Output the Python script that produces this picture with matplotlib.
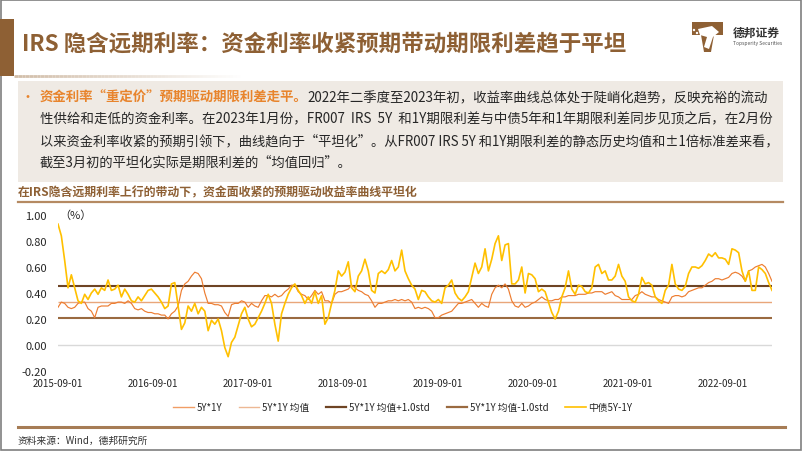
import matplotlib
matplotlib.use('Agg')
import matplotlib.pyplot as plt
import pandas as pd
import numpy as np
from matplotlib.patches import Rectangle, Polygon, Circle
from matplotlib.lines import Line2D
from matplotlib.collections import LineCollection

plt.rcParams['font.family'] = ['Noto Sans CJK SC', 'DejaVu Sans']

# ---------------- data ----------------
start_date = '2015-09-01'
end_date = '2023-03-10'

spread_5y1y = [
    0.29, 0.33, 0.32, 0.29, 0.28, 0.29, 0.32, 0.33, 0.33, 0.28,
    0.26, 0.21, 0.29, 0.30, 0.30, 0.30, 0.32, 0.32, 0.33, 0.33,
    0.32, 0.34, 0.32, 0.28, 0.27, 0.28, 0.26, 0.25, 0.25, 0.24,
    0.24, 0.23, 0.23, 0.20, 0.24, 0.26, 0.30, 0.42, 0.47, 0.49,
    0.53, 0.56, 0.55, 0.51, 0.40, 0.32, 0.32, 0.31, 0.31, 0.30,
    0.25, 0.22, 0.31, 0.32, 0.32,
    0.34, 0.33, 0.29, 0.32, 0.30, 0.29, 0.34, 0.38, 0.38, 0.37,
    0.39, 0.37, 0.38, 0.41, 0.43, 0.46, 0.46, 0.41, 0.39, 0.38,
    0.35, 0.38, 0.42, 0.39, 0.41, 0.34, 0.34, 0.32, 0.39, 0.41,
    0.41, 0.42, 0.43, 0.46, 0.44, 0.42, 0.41, 0.39, 0.38, 0.34,
    0.29, 0.32, 0.32, 0.33, 0.34, 0.34, 0.35, 0.34, 0.35, 0.34,
    0.35, 0.33, 0.28, 0.29,
    0.28, 0.29, 0.28, 0.26, 0.21, 0.21, 0.23, 0.24, 0.25, 0.26,
    0.29, 0.32, 0.32, 0.33, 0.34, 0.35, 0.32, 0.29, 0.32, 0.30,
    0.29, 0.39, 0.44, 0.46, 0.44, 0.47, 0.43, 0.34, 0.30, 0.29,
    0.32, 0.29, 0.30, 0.32, 0.33, 0.35, 0.37, 0.35, 0.34, 0.34,
    0.35, 0.35, 0.37, 0.37, 0.38, 0.38, 0.38, 0.39, 0.39, 0.39,
    0.40, 0.40, 0.41, 0.41,
    0.41, 0.39, 0.40, 0.41, 0.38, 0.37, 0.35, 0.35, 0.35, 0.35,
    0.38, 0.39, 0.41, 0.39, 0.38, 0.37, 0.37, 0.35, 0.34, 0.33,
    0.32, 0.37, 0.38, 0.38, 0.37, 0.38, 0.41, 0.42, 0.43, 0.44,
    0.44, 0.46, 0.48, 0.49, 0.51, 0.51, 0.50, 0.51, 0.52, 0.55,
    0.56, 0.55, 0.53, 0.49, 0.57, 0.58, 0.60, 0.61, 0.62, 0.60,
    0.55, 0.49,
]

cgb_5y_1y = [
    0.93, 0.84, 0.65, 0.44, 0.54, 0.44, 0.34, 0.32, 0.39, 0.35,
    0.40, 0.43, 0.39, 0.44, 0.42, 0.50, 0.42, 0.43, 0.46, 0.37,
    0.43, 0.39, 0.34, 0.33, 0.37, 0.34, 0.38, 0.42, 0.43, 0.40,
    0.37, 0.33, 0.28, 0.30, 0.47, 0.48, 0.30, 0.12, 0.17, 0.30,
    0.26, 0.32, 0.24, 0.29, 0.26, 0.11, 0.19, 0.16, 0.20, 0.11,
    -0.02, -0.09, 0.02, 0.06, 0.15,
    0.24, 0.29, 0.20, 0.14, 0.16, 0.21, 0.26, 0.32, 0.39, 0.32,
    0.16, 0.03, 0.24, 0.32, 0.39, 0.44, 0.47, 0.42, 0.38, 0.32,
    0.37, 0.32, 0.41, 0.32, 0.38, 0.16, 0.21, 0.32, 0.42, 0.57,
    0.53, 0.56, 0.64, 0.44, 0.41, 0.53, 0.57, 0.66, 0.57, 0.42,
    0.40, 0.55, 0.57, 0.55, 0.58, 0.65, 0.57, 0.60, 0.73, 0.57,
    0.51, 0.46, 0.43, 0.35,
    0.42, 0.41, 0.37, 0.34, 0.33, 0.35, 0.32, 0.44, 0.46, 0.50,
    0.40, 0.36, 0.34, 0.37, 0.41, 0.52, 0.63, 0.55, 0.60, 0.74,
    0.57, 0.66, 0.78, 0.84, 0.65, 0.77, 0.78, 0.47, 0.47, 0.50,
    0.60, 0.40, 0.55, 0.54, 0.51, 0.41, 0.43, 0.41, 0.33, 0.25,
    0.20, 0.26, 0.37, 0.44, 0.57, 0.43, 0.39, 0.46, 0.45, 0.41,
    0.40, 0.44, 0.60, 0.62,
    0.55, 0.57, 0.50, 0.50, 0.53, 0.62, 0.53, 0.49, 0.37, 0.34,
    0.33, 0.39, 0.52, 0.47, 0.48, 0.46, 0.37, 0.34, 0.32, 0.42,
    0.46, 0.62, 0.47, 0.43, 0.42, 0.45, 0.55, 0.60, 0.60, 0.59,
    0.61, 0.65, 0.70, 0.68, 0.71, 0.67, 0.67, 0.66, 0.62, 0.74,
    0.73, 0.71, 0.57, 0.49, 0.57, 0.42, 0.42, 0.60, 0.58, 0.55,
    0.48, 0.42,
]

mean_5y1y = 0.33
std_5y1y = 0.125

y_ticks = [-0.20, 0.00, 0.20, 0.40, 0.60, 0.80, 1.00]
x_tick_dates = ['2015-09-01', '2016-09-01', '2017-09-01', '2018-09-01',
                '2019-09-01', '2020-09-01', '2021-09-01', '2022-09-01']
legend_labels = ['5Y*1Y', '5Y*1Y 均值', '5Y*1Y 均值+1.0std',
                 '5Y*1Y 均值-1.0std', '中债5Y-1Y']

title = 'IRS 隐含远期利率：资金利率收紧预期带动期限利差趋于平坦'
chart_title = '在IRS隐含远期利率上行的带动下，资金面收紧的预期驱动收益率曲线平坦化'
lead = '资金利率“重定价”预期驱动期限利差走平。'
body_lines = [
    '2022年二季度至2023年初，收益率曲线总体处于陡峭化趋势，反映充裕的流动',
    '性供给和走低的资金利率。在2023年1月份，FR007  IRS  5Y  和1Y期限利差与中债5年和1年期限利差同步见顶之后，在2月份',
    '以来资金利率收紧的预期引领下，曲线趋向于“平坦化”。从FR007 IRS 5Y 和1Y期限利差的静态历史均值和±1倍标准差来看，',
    '截至3月初的平坦化实际是期限利差的“均值回归”。',
]
source = '资料来源：Wind，德邦研究所'

# ---------------- colours ----------------
BROWN = '#8E6034'
ORANGE_TXT = '#E8842C'
C_SPREAD = '#ED7D31'
C_MEAN = '#E9A67A'
C_UP = '#6E4424'
C_DN = '#9A6A40'
C_CGB = '#FFC000'

W, H = 802, 452
fig = plt.figure(figsize=(W / 100, H / 100), dpi=100)

bg = fig.add_axes([0, 0, 1, 1], zorder=0)
bg.set_xlim(0, W)
bg.set_ylim(H, 0)
bg.axis('off')

# slide border
bg.add_patch(Rectangle((0.5, 0.5), W - 1.5, H - 1.5, fill=False,
                       edgecolor='#7F7F7F', lw=1.2))
# left header bar
bg.add_patch(Rectangle((0, 20), 14, 57, color=BROWN, lw=0))
# gradient line under header
n = 60
xs = np.linspace(14, 240, n + 1)
segs = [[(xs[i], 77), (xs[i + 1], 77)] for i in range(n)]
cols = [(0.82, 0.74, 0.66, 1 - i / n) for i in range(n)]
bg.add_collection(LineCollection(segs, colors=cols, linewidths=2))

bg.text(22, 44, title, fontsize=16.2, fontweight='bold', color=BROWN,
        va='center', ha='left')

# logo
bg.add_patch(Rectangle((692, 23), 31, 30, color=BROWN, lw=0))
bg.add_patch(Polygon([(692, 36), (701, 36), (704, 53), (692, 53)],
                     closed=True, color='white', lw=0))
bg.add_patch(Polygon([(714, 36), (723, 36), (723, 53), (711, 53)],
                     closed=True, color='white', lw=0))
bg.add_patch(Polygon([(698, 30), (712, 27), (719, 33), (713, 38), (709, 50),
                      (704, 48), (707, 38), (700, 36)], closed=True,
                     color='white', lw=0))
for cx, cy in [(694, 31), (697, 34)]:
    bg.add_patch(Circle((cx, cy), 1.2, color='white', lw=0))
bg.text(733, 33, '德邦证券', fontsize=8.5, fontweight='bold',
        color='#333333', va='center', ha='left')
bg.text(733, 44, 'Topsperity Securities', fontsize=3.6, color='#555555',
        va='center', ha='left')

# text box
bg.add_patch(Rectangle((18, 82), 765, 101, color='#EFEAE4', lw=0))
bg.text(28, 98, '•', fontsize=10, color=ORANGE_TXT, va='center', ha='center')

fig.canvas.draw()
renderer = fig.canvas.get_renderer()
line_y = [98, 119.5, 141, 162.5]
x0 = 40
right_edges = [770, 771, 778]


def width_at(fs, parts):
    w = 0
    for s, wt in parts:
        t = bg.text(0, 0, s, fontsize=fs, fontweight=wt)
        w += t.get_window_extent(renderer).width
        t.remove()
    return w


fits = []
parts_all = [[(lead, 'bold'), (body_lines[0], 'normal')],
             [(body_lines[1], 'normal')],
             [(body_lines[2], 'normal')]]
for parts, r in zip(parts_all, right_edges):
    w10 = width_at(10, parts)
    fits.append(10 * (r - x0) / w10)
fits.append(fits[2])

t_lead = bg.text(x0, line_y[0], lead, fontsize=fits[0], fontweight='bold',
                 color=ORANGE_TXT, va='center', ha='left')
x_after = t_lead.get_window_extent(renderer).x1
bg.text(x_after, line_y[0], body_lines[0], fontsize=fits[0],
        color='#262626', va='center', ha='left')
for yy, s, fs in zip(line_y[1:], body_lines[1:], fits[1:]):
    bg.text(x0, yy, s, fontsize=fs, color='#262626', va='center', ha='left')

# chart title + rule
bg.text(18, 193, chart_title, fontsize=8.6, fontweight='bold', color=BROWN,
        va='center', ha='left')
bg.plot([18, 783], [203, 203], color='#B58A62', lw=1.6)

# bottom rule and source
bg.plot([18, 785], [428, 428], color='#A67C55', lw=2.2)
bg.text(18, 441, source, fontsize=7, color='#333333', va='center', ha='left')

# ---------------- chart ----------------
L, R, T, B = 58, 772, 216, 372
ax = fig.add_axes([L / W, 1 - B / H, (R - L) / W, (B - T) / H], zorder=2)
ax.patch.set_alpha(0)

dates = pd.date_range(start_date, end_date, periods=len(spread_5y1y))
dates_c = pd.date_range(start_date, end_date, periods=len(cgb_5y_1y))

ax.axhline(0, color='#D9D9D9', lw=1.0, zorder=1)
ax.hlines(mean_5y1y, dates[0], dates[-1], color=C_MEAN, lw=1.0, zorder=2)
ax.hlines(mean_5y1y + std_5y1y, dates[0], dates[-1], color=C_UP, lw=1.5, zorder=2)
ax.hlines(mean_5y1y - std_5y1y, dates[0], dates[-1], color=C_DN, lw=1.5, zorder=2)
ax.plot(dates, spread_5y1y, color=C_SPREAD, lw=0.85, zorder=3)
ax.plot(dates_c, cgb_5y_1y, color=C_CGB, lw=1.2, zorder=4)

ax.set_xlim(pd.Timestamp(start_date), pd.Timestamp(end_date))
ax.set_ylim(-0.2, 1.0)
ax.set_yticks(y_ticks)
ax.set_yticklabels([f'{v:.2f}' for v in y_ticks], fontsize=8, color='#262626')
ax.set_xticks(pd.to_datetime(x_tick_dates))
ax.set_xticklabels(x_tick_dates, fontsize=7, color='#262626')
ax.tick_params(axis='y', length=0, pad=8)
ax.tick_params(axis='x', length=0, pad=5)
for s in ax.spines.values():
    s.set_visible(False)
bg.text(59, 216, '（%）', fontsize=8, color='#262626', va='center', ha='left')

handles = [Line2D([], [], color=C_SPREAD, lw=1.0, alpha=0.75),
           Line2D([], [], color=C_MEAN, lw=1.0, alpha=0.8),
           Line2D([], [], color=C_UP, lw=1.6),
           Line2D([], [], color=C_DN, lw=1.6),
           Line2D([], [], color=C_CGB, lw=1.2)]
fig.legend(handles, legend_labels, loc='center', ncol=5, frameon=False,
           bbox_to_anchor=(403 / W, 1 - 408 / H), fontsize=7,
           handlelength=2.1, handletextpad=0.3, columnspacing=1.7,
           labelcolor='#262626')

fig.savefig('out.png', dpi=100)
